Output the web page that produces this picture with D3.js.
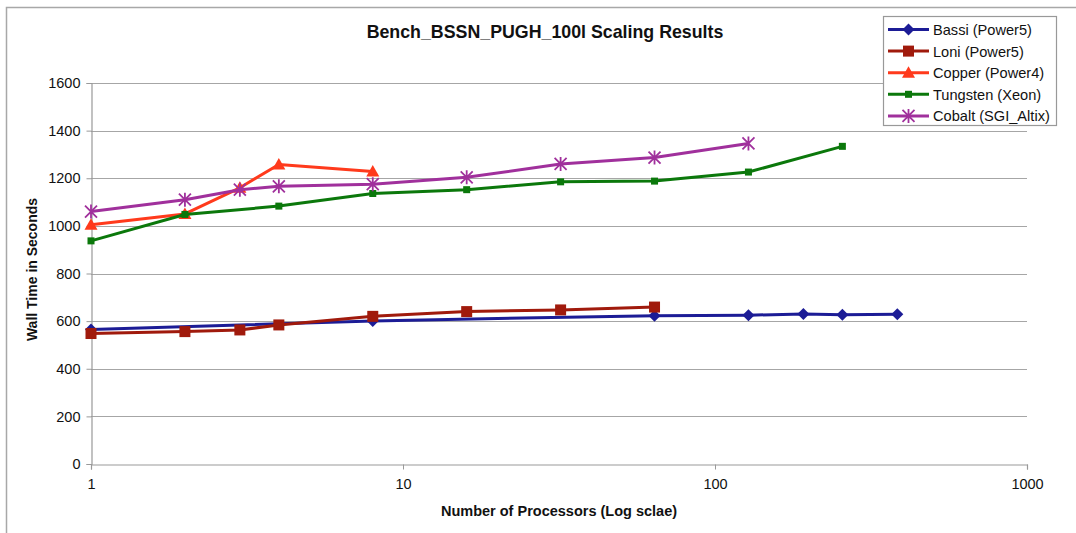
<!DOCTYPE html>
<html>
<head>
<meta charset="utf-8">
<script src="https://cdn.jsdelivr.net/npm/d3@7"></script>
<style>
  html, body { margin: 0; padding: 0; background: #fff; }
  svg { display: block; font-family: "Liberation Sans", Arial, sans-serif; }
</style>
</head>
<body>
<svg id="chart" width="1076" height="533"></svg>
<script>
// Wall time (seconds) per processor count, one pair of arrays per machine
const bassiProcs     = [1, 8, 64, 128, 192, 256, 384];
const bassiTimes     = [565, 601, 623, 625, 630, 627, 629];
const loniProcs      = [1, 2, 3, 4, 8, 16, 32, 64];
const loniTimes      = [548, 556, 563, 584, 620, 640, 647, 659];
const copperProcs    = [1, 2, 3, 4, 8];
const copperTimes    = [1005, 1050, 1160, 1258, 1228];
const tungstenProcs  = [1, 2, 4, 8, 16, 32, 64, 128, 256];
const tungstenTimes  = [937, 1048, 1083, 1136, 1152, 1185, 1188, 1226, 1334];
const cobaltProcs    = [1, 2, 3, 4, 8, 16, 32, 64, 128];
const cobaltTimes    = [1060, 1110, 1152, 1166, 1175, 1204, 1260, 1287, 1346];

const seriesNames  = ["Bassi (Power5)", "Loni (Power5)", "Copper (Power4)", "Tungsten (Xeon)", "Cobalt (SGI_Altix)"];
const xTickValues  = [1, 10, 100, 1000];
const yTickValues  = [0, 200, 400, 600, 800, 1000, 1200, 1400, 1600];

const titleText  = "Bench_BSSN_PUGH_100l Scaling Results";
const xAxisTitle = "Number of Processors (Log sclae)";
const yAxisTitle = "Wall Time in Seconds";

const series = [
  { name: seriesNames[0], procs: bassiProcs,    times: bassiTimes,    color: "#1c1c96", marker: "diamond" },
  { name: seriesNames[1], procs: loniProcs,     times: loniTimes,     color: "#a01a0c", marker: "square" },
  { name: seriesNames[2], procs: copperProcs,   times: copperTimes,   color: "#ff3a1c", marker: "triangle" },
  { name: seriesNames[3], procs: tungstenProcs, times: tungstenTimes, color: "#0b780b", marker: "smallsquare" },
  { name: seriesNames[4], procs: cobaltProcs,   times: cobaltTimes,   color: "#a0309c", marker: "asterisk" }
];

const svg = d3.select("#chart");
const plot = { left: 91, right: 1027, top: 83, bottom: 464 };

const x = d3.scaleLog().domain([1, 1000]).range([plot.left, plot.right]);
const y = d3.scaleLinear().domain([0, 1600]).range([plot.bottom, plot.top]);

// chart frame (left and top edges)
svg.append("path")
  .attr("d", "M6.5,533 L6.5,7.5 L1076,7.5")
  .attr("fill", "none").attr("stroke", "#a8a8a8").attr("stroke-width", 1.5);

// title
svg.append("text")
  .attr("x", 545).attr("y", 38)
  .attr("text-anchor", "middle")
  .attr("font-size", 17.8).attr("font-weight", "bold").attr("fill", "#111")
  .text(titleText);

// horizontal gridlines
svg.append("g").selectAll("line")
  .data(yTickValues.filter(v => v > 0))
  .join("line")
  .attr("x1", plot.left).attr("x2", plot.right)
  .attr("y1", d => Math.round(y(d)) + 0.5).attr("y2", d => Math.round(y(d)) + 0.5)
  .attr("stroke", "#a6a6a6").attr("stroke-width", 1.2);

// y axis
const yAxis = svg.append("g")
  .attr("transform", `translate(${plot.left + 0.5},0)`)
  .call(d3.axisLeft(y).tickValues(yTickValues).tickSize(5).tickPadding(6).tickFormat(d3.format("d")));
yAxis.select(".domain").attr("stroke", "#999").attr("stroke-width", 1.2);
yAxis.selectAll(".tick line").attr("stroke", "#999");
yAxis.selectAll(".tick text").attr("font-size", 14.5).attr("fill", "#111")
  .attr("font-family", "Liberation Sans, Arial, sans-serif");

// x axis
const xAxis = svg.append("g")
  .attr("transform", `translate(0,${plot.bottom + 0.5})`)
  .call(d3.axisBottom(x).tickValues(xTickValues).tickSize(5).tickPadding(9).tickFormat(d3.format("d")));
xAxis.select(".domain").attr("stroke", "#999").attr("stroke-width", 1.2);
xAxis.selectAll(".tick line").attr("stroke", "#999");
xAxis.selectAll(".tick text").attr("font-size", 14.5).attr("fill", "#111")
  .attr("font-family", "Liberation Sans, Arial, sans-serif");

// axis titles
svg.append("text")
  .attr("x", (plot.left + plot.right) / 2).attr("y", 516)
  .attr("text-anchor", "middle")
  .attr("font-size", 14.5).attr("font-weight", "bold").attr("fill", "#111")
  .text(xAxisTitle);

svg.append("text")
  .attr("transform", `translate(37,${(plot.top + plot.bottom) / 2 - 4}) rotate(-90)`)
  .attr("text-anchor", "middle")
  .attr("font-size", 14).attr("font-weight", "bold").attr("fill", "#111")
  .text(yAxisTitle);

// marker drawing helper
function drawMarker(g, kind, color) {
  switch (kind) {
    case "diamond":
      g.append("path").attr("d", "M0,-6 L6,0 L0,6 L-6,0 Z").attr("fill", color);
      break;
    case "square":
      g.append("rect").attr("x", -5.5).attr("y", -5.5).attr("width", 11).attr("height", 11).attr("fill", color);
      break;
    case "triangle":
      g.append("path").attr("d", "M0,-6.5 L6.5,5 L-6.5,5 Z").attr("fill", color);
      break;
    case "smallsquare":
      g.append("rect").attr("x", -3.5).attr("y", -3.5).attr("width", 7).attr("height", 7).attr("fill", color);
      break;
    case "asterisk":
      g.append("path")
        .attr("d", "M-6,-6 L6,6 M-6,6 L6,-6 M0,-7 L0,7")
        .attr("stroke", color).attr("stroke-width", 1.8).attr("fill", "none");
      break;
  }
}

// series lines and markers
const line = d3.line().x(d => x(d[0])).y(d => y(d[1]));
series.forEach(s => {
  const pts = s.procs.map((p, i) => [p, s.times[i]]);
  const g = svg.append("g");
  g.append("path")
    .attr("d", line(pts))
    .attr("fill", "none").attr("stroke", s.color).attr("stroke-width", 3)
    .attr("stroke-linejoin", "round");
  pts.forEach(p => {
    const m = g.append("g").attr("transform", `translate(${x(p[0])},${y(p[1])})`);
    drawMarker(m, s.marker, s.color);
  });
});

// legend
const legend = svg.append("g").attr("transform", "translate(883,16)");
legend.append("rect")
  .attr("x", 0.5).attr("y", 0.5).attr("width", 173).attr("height", 109)
  .attr("fill", "#fff").attr("stroke", "#999").attr("stroke-width", 1.2);
series.forEach((s, i) => {
  const rowY = 13.5 + i * 21.6;
  const row = legend.append("g").attr("transform", `translate(0,${rowY})`);
  row.append("line").attr("x1", 5).attr("x2", 46).attr("y1", 0).attr("y2", 0)
    .attr("stroke", s.color).attr("stroke-width", 3);
  drawMarker(row.append("g").attr("transform", "translate(25.5,0)"), s.marker, s.color);
  row.append("text").attr("x", 50).attr("y", 5.5)
    .attr("font-size", 14.6).attr("fill", "#111")
    .text(s.name);
});
</script>
</body>
</html>
